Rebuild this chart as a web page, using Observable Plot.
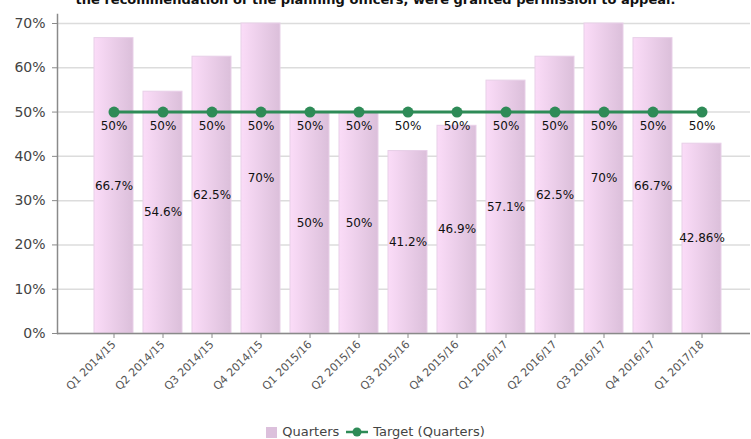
<!DOCTYPE html>
<html>
<head>
<meta charset="utf-8">
<script src="https://cdn.jsdelivr.net/npm/d3@7"></script>
<script src="https://cdn.jsdelivr.net/npm/@observablehq/plot@0.6"></script>
<style>
  html, body { margin: 0; padding: 0; background: #fff; }
  body { width: 751px; height: 439px; position: relative; overflow: hidden; font-family: "DejaVu Sans", Verdana, sans-serif; }
  #title { position: absolute; top: -7px; left: 0; width: 751px; text-align: center; font-weight: bold; font-size: 13px; line-height: 13px; color: #111; white-space: nowrap; }
  #chart { position: absolute; top: 0; left: 0; }
  #legend { position: absolute; top: 425px; left: 0; width: 751px; display: flex; justify-content: center; align-items: center; font-size: 13px; color: #444; line-height: 14px; }
  .sw { display: inline-block; width: 11px; height: 11px; background: #dcc0dc; margin-right: 5px; }
  .item { display: flex; align-items: center; margin: 0 3px; }
</style>
</head>
<body>
<div id="title">the recommendation of the planning officers, were granted permission to appeal.</div>
<div id="chart"></div>
<div id="legend">
  <span class="item"><span class="sw"></span>Quarters</span>
  <span class="item"><svg width="24" height="12" style="margin-right:4px"><line x1="1" y1="6" x2="23" y2="6" stroke="#2e8b57" stroke-width="2.5"></line><circle cx="12" cy="6" r="4.5" fill="#2e8b57"></circle></svg>Target (Quarters)</span>
</div>
<script>
const quarters = ["Q1 2014/15","Q2 2014/15","Q3 2014/15","Q4 2014/15","Q1 2015/16","Q2 2015/16","Q3 2015/16","Q4 2015/16","Q1 2016/17","Q2 2016/17","Q3 2016/17","Q4 2016/17","Q1 2017/18"];
const values = [66.7, 54.6, 62.5, 70, 50, 50, 41.2, 46.9, 57.1, 62.5, 70, 66.7, 42.86];
const target = [50, 50, 50, 50, 50, 50, 50, 50, 50, 50, 50, 50, 50];
const yTicks = [0, 10, 20, 30, 40, 50, 60, 70];

const data = quarters.map((q, i) => ({q, v: values[i], t: target[i]}));
const green = "#2e8b57";

const chart = Plot.plot({
  width: 751,
  height: 439,
  marginTop: 23,
  marginBottom: 106,
  marginLeft: 57,
  marginRight: 1,
  style: {fontFamily: "DejaVu Sans, Verdana, sans-serif", background: "transparent"},
  x: {domain: quarters, padding: 0.2, insetLeft: 24, insetRight: 16, label: null},
  y: {domain: [0, 70], label: null},
  marks: [
    Plot.gridY(yTicks, {stroke: "#dcdcdc", strokeOpacity: 1, strokeWidth: 1.5}),
    Plot.barY(data, {x: "q", y: "v", fill: "url(#barGrad)", stroke: "#e8cfe8", strokeWidth: 1}),
    Plot.text(data, {x: "q", y: d => d.v / 2, text: d => d.v + "%", fontSize: 12, fill: "#111"}),
    Plot.ruleY([0], {stroke: "#8a8a8a", strokeWidth: 1.5}),
    Plot.frame({anchor: "left", stroke: "#8a8a8a", strokeWidth: 1.5, insetTop: -9}),
    Plot.axisY(yTicks, {tickFormat: d => d + "%", tickSize: 5, tickPadding: 7, fontSize: 14, fill: "#444", stroke: "#8a8a8a", label: null}),
    Plot.axisX({tickRotate: -45, tickSize: 5, tickPadding: 4, fontSize: 11, fill: "#555", stroke: "#8a8a8a", label: null}),
    Plot.line(data, {x: "q", y: "t", stroke: green, strokeWidth: 3}),
    Plot.dot(data, {x: "q", y: "t", r: 5.5, fill: green}),
    Plot.text(data, {x: "q", y: "t", text: d => d.t + "%", dy: 14, fontSize: 12, fill: "#111"})
  ]
});

const svg = d3.select(chart);
const defs = svg.insert("defs", ":first-child");
const grad = defs.append("linearGradient").attr("id", "barGrad").attr("x1", "0").attr("x2", "1").attr("y1", "0").attr("y2", "0");
grad.append("stop").attr("offset", "0%").attr("stop-color", "#fbdcf8");
grad.append("stop").attr("offset", "100%").attr("stop-color", "#dbbfda");

document.getElementById("chart").appendChild(chart);
</script>
</body>
</html>
